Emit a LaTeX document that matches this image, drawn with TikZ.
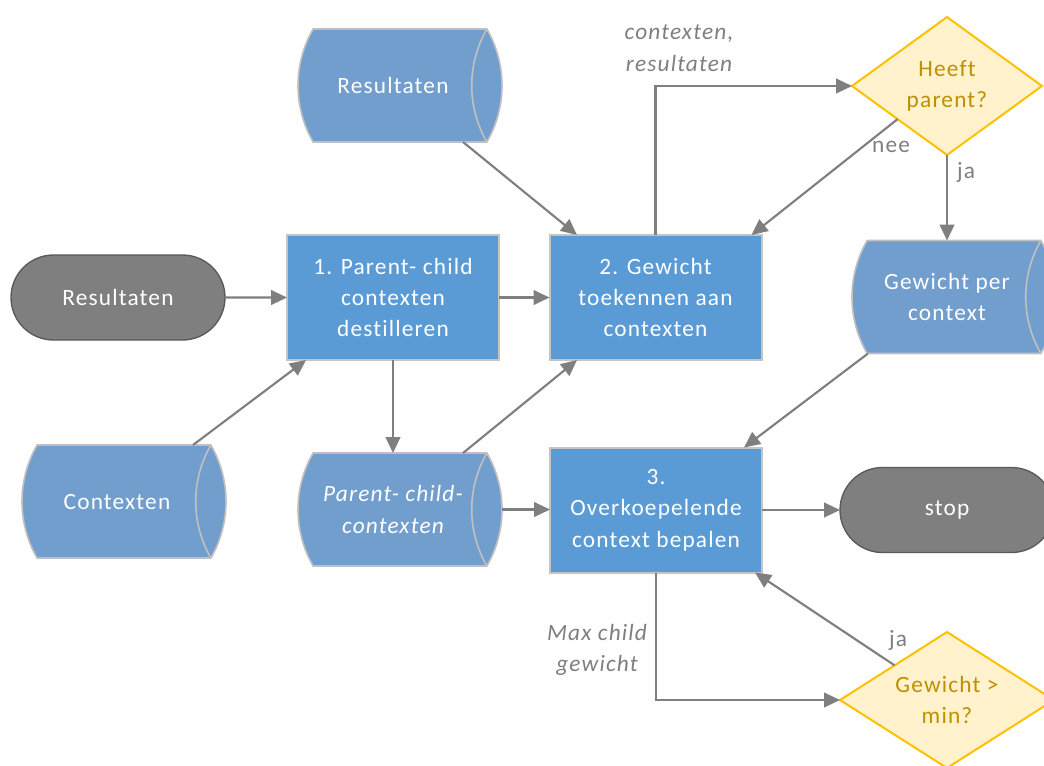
\documentclass[tikz,border=0pt]{standalone}
\usepackage{fontspec}
\setmainfont{Carlito}[LetterSpace=5,Ligatures=NoCommon]
\usetikzlibrary{arrows.meta,shapes.misc,calc}

\definecolor{procfill}{RGB}{91,155,213}
\definecolor{procline}{RGB}{196,196,196}
\definecolor{storefill}{RGB}{114,158,206}
\definecolor{storeline}{RGB}{192,192,192}
\definecolor{termfill}{RGB}{127,127,127}
\definecolor{termline}{RGB}{89,89,89}
\definecolor{decfill}{RGB}{255,242,204}
\definecolor{decline}{RGB}{255,192,0}
\definecolor{dectextc}{RGB}{191,143,0}
\definecolor{flowc}{RGB}{127,127,127}

\newcommand\mainsize{\fontsize{17.5}{23.6}\selectfont}
% sagitta and radius of the curved ends of a storage cylinder
\newlength\cylsag \setlength\cylsag{11.35pt}
\newlength\cylrad \setlength\cylrad{84.75pt}

\tikzset{
  term/.style={rounded rectangle, fill=termfill, draw=termline, line width=1pt,
    minimum width=160.5pt, minimum height=63.75pt, inner sep=0pt, outer sep=0pt,
    text=white, font=\mainsize},
  proc/.style={rectangle, fill=procfill, draw=procline, line width=1.5pt,
    minimum width=159pt, minimum height=93.75pt, inner sep=0pt, outer sep=0pt,
    text=white, font=\mainsize, align=center},
  storebox/.style={rectangle, draw=none, minimum width=153pt, minimum height=84.75pt,
    inner sep=0pt, outer sep=0pt},
  storeshape/.style={fill=storefill, draw=storeline, line width=1.2pt},
  storeedge/.style={draw=storeline, line width=1.2pt},
  storetext/.style={text=white, font=\mainsize, align=center, inner sep=0pt},
  decshape/.style={fill=decfill, draw=decline, line width=1.5pt, line join=miter},
  dectext/.style={text=dectextc, font=\mainsize, align=center, inner sep=0pt},
  flow/.style={draw=flowc, line width=1.6pt, -{Triangle[length=12pt,width=11pt]}},
  lbl/.style={text=flowc, font=\mainsize, align=center, inner sep=0pt},
  lbli/.style={lbl, font=\mainsize\itshape},
}

% horizontal storage cylinder: name, centre, text, extra text style
\newcommand\storage[4]{%
  \node[storebox] (#1) at (#2) {};
  \path[storeshape] ([xshift=\cylsag]#1.north west) -- ([xshift=-\cylsag]#1.north east)
    arc[start angle=30, end angle=-30, radius=\cylrad]
    -- ([xshift=\cylsag]#1.south west)
    arc[start angle=210, end angle=150, radius=\cylrad] -- cycle;
  \draw[storeedge] ([xshift=-\cylsag]#1.north east)
    arc[start angle=150, end angle=210, radius=\cylrad];
  \node[storetext,#4] (#1-text) at ([xshift=-5.25pt]#1.center) {#3};
}

% decision diamond: name, centre, half width, half height, text
\newcommand\decision[5]{%
  \coordinate (#1-c) at (#2);
  \coordinate (#1-n) at ([yshift=#4]#1-c);
  \coordinate (#1-s) at ([yshift=-#4]#1-c);
  \coordinate (#1-w) at ([xshift=-#3]#1-c);
  \coordinate (#1-e) at ([xshift=#3]#1-c);
  \path[decshape] (#1-w) -- (#1-n) -- (#1-e) -- (#1-s) -- cycle;
  \node[dectext] (#1) at (#1-c) {#5};
}

\begin{document}
\begin{tikzpicture}[x=0.75pt, y=-0.75pt]
  \useasboundingbox (0,0) rectangle (1044,765);
  \clip (0,0) rectangle (1044,765);

  % terminals
  \node[term] (start) at (118,297.5) {Resultaten};
  \node[term] (stop) at (947,510) {stop};

  % process steps
  \node[proc] (b1) at (393,297.5) {1. Parent- child\\contexten\\destilleren};
  \node[proc] (b2) at (655.5,297.5) {2. Gewicht\\toekennen aan\\contexten};
  \node[proc] (b3) at (656,510) {3.\\Overkoepelende\\context bepalen};

  % data stores
  \storage{cres}{400,85.5}{Resultaten}{}
  \storage{cctx}{124,501.5}{Contexten}{}
  \storage{cpc}{400,509.5}{Parent- child-\\contexten}{font=\mainsize\itshape}
  \storage{cgw}{954,297}{Gewicht per\\context}{}

  % decisions
  \decision{hp}{947,86}{71.25pt}{51.75pt}{Heeft\\parent?}
  \decision{gm}{947,700}{80.25pt}{51pt}{Gewicht >\\min?}

  % connectors
  \draw[flow] (start) -- (b1);
  \draw[flow] (b1) -- (b2);
  \draw[flow] ([xshift=47.25pt]cres.south) -- ([xshift=-58.875pt]b2.north);
  \draw[flow] ([xshift=51.75pt]cctx.north) -- ([xshift=-65.25pt]b1.south);
  \draw[flow] (b1.south) -- (b1.south |- cpc.north);
  \draw[flow] ([xshift=47.25pt]cpc.north) -- ([xshift=-58.875pt]b2.south);
  \draw[flow] (cpc.east) -- (cpc.east -| b3.west);
  \draw[flow] (b2.north) |- (hp-w);
  \draw[flow] ($(hp-w)!0.48!(hp-s)$) -- ([xshift=-7.5pt]b2.north east);
  \draw[flow] (hp-s) -- (hp-s |- cgw.north);
  \draw[flow] ([xshift=-64.5pt]cgw.south) -- ([xshift=66pt]b3.north);
  \draw[flow] (b3) -- (stop);
  \draw[flow] (b3.south) |- (gm-w);
  \draw[flow] ($(gm-w)!0.51!(gm-n)$) -- ([xshift=-5.25pt]b3.south east);

  % connector labels
  \node[lbli] (lctx) at (679,48) {contexten,\\resultaten};
  \node[lbl] (lnee) at (891,147) {nee};
  \node[lbl] (lja1) at (966,172) {ja};
  \node[lbli] (lmax) at (597,650) {Max child\\gewicht};
  \node[lbl] (lja2) at (898,640) {ja};
\end{tikzpicture}
\end{document}
